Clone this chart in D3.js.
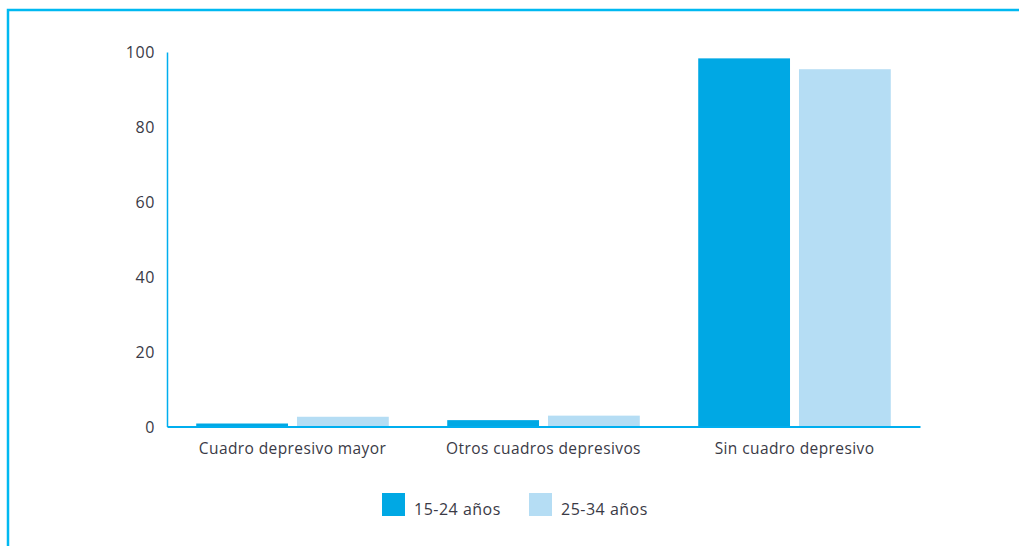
<!DOCTYPE html>
<html><head><meta charset="utf-8">
<script src="https://cdn.jsdelivr.net/npm/d3@7"></script>
<style>
html,body{margin:0;padding:0;background:#fff;overflow:hidden;}
svg{display:block;}
text{font-family:"Open Sans","Lato",sans-serif;fill:#3a3a46;}
</style></head>
<body><svg id="c" width="1019" height="546"></svg>
<script>
const categories = ["Cuadro depresivo mayor", "Otros cuadros depresivos", "Sin cuadro depresivo"];
const seriesNames = ["15-24 años", "25-34 años"];
const values1524 = [0.8, 1.7, 98.3];
const values2534 = [2.6, 2.9, 95.4];
const yTicks = [0, 20, 40, 60, 80, 100];
const colors = ["#00a8e4", "#b5ddf4"];

const svg = d3.select("#c");
// frame
svg.append("rect").attr("x", 8).attr("y", 10).attr("width", 1030).attr("height", 560)
  .attr("fill", "none").attr("stroke", "#00b9f1").attr("stroke-width", 2.5);

const L = 167, R = 920, T = 52, B = 426.5;
const x = d3.scaleBand().domain(categories).range([L, R]).paddingInner(0).paddingOuter(0);
const xs = d3.scaleBand().domain(seriesNames).range([0, x.bandwidth()]).paddingInner(0.089).paddingOuter(0.29);
const y = d3.scaleLinear().domain([0, 100]).range([B, T]);

const data = categories.map((c, i) => ({c, v: [values1524[i], values2534[i]]}));
const g = svg.append("g");
data.forEach(d => {
  d.v.forEach((v, j) => {
    g.append("rect")
      .attr("x", x(d.c) + xs(seriesNames[j]))
      .attr("y", y(v))
      .attr("width", xs.bandwidth())
      .attr("height", B - y(v))
      .attr("fill", colors[j]);
  });
});

// y axis
const ya = svg.append("g").attr("transform", `translate(${L},0)`)
  .call(d3.axisLeft(y).tickValues(yTicks).tickSize(0).tickPadding(12));
ya.select(".domain").attr("stroke", "#00aeef").attr("stroke-width", 1.5);
ya.selectAll("text").style("font-size", "16px").attr("dy", "0.36em").attr("letter-spacing", "0.6px");

// x axis
const xa = svg.append("g").attr("transform", `translate(0,${B})`)
  .call(d3.axisBottom(x).tickSize(0).tickPadding(16));
xa.select(".domain").attr("stroke", "#00aeef").attr("stroke-width", 2);
xa.selectAll("text").style("font-size", "15.5px").attr("letter-spacing", "0.4px");

// legend
const leg = svg.append("g");
const lx = [382, 529];
seriesNames.forEach((s, j) => {
  leg.append("rect").attr("x", lx[j]).attr("y", 493).attr("width", 23).attr("height", 23).attr("fill", colors[j]);
  leg.append("text").attr("x", lx[j] + 32).attr("y", 515).text(s).style("font-size", "16px").attr("letter-spacing", "0.5px");
});
</script></body></html>
